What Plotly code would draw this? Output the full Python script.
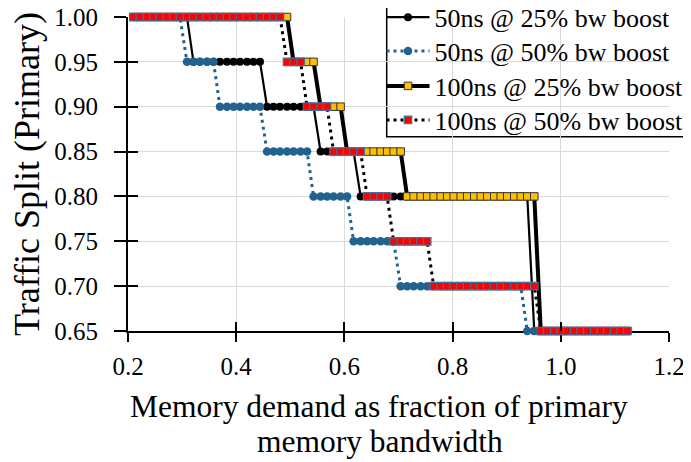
import plotly.graph_objects as go

# Memory demand (fraction of primary bandwidth) sample points
X = [0.210, 0.222, 0.235, 0.247, 0.259, 0.272, 0.284, 0.296, 0.309, 0.321,
     0.333, 0.346, 0.358, 0.370, 0.383, 0.395, 0.407, 0.420, 0.432, 0.444,
     0.457, 0.469, 0.481, 0.494, 0.506, 0.519, 0.531, 0.543, 0.556, 0.568,
     0.580, 0.593, 0.605, 0.617, 0.630, 0.642, 0.654, 0.667, 0.679, 0.691,
     0.704, 0.716, 0.728, 0.741, 0.753, 0.765, 0.778, 0.790, 0.802, 0.815,
     0.827, 0.840, 0.852, 0.864, 0.877, 0.889, 0.901, 0.914, 0.926, 0.938,
     0.951, 0.963, 0.975, 0.988, 1.000, 1.012, 1.025, 1.037, 1.049, 1.062,
     1.074, 1.086, 1.099, 1.111, 1.123]

SERIES_NAMES = ["50ns @ 25% bw boost", "50ns @ 50% bw boost",
                "100ns @ 25% bw boost", "100ns @ 50% bw boost"]

# Traffic split (primary) values
Y_50NS_25 = ([1.00] * 9 + [0.95] * 11 + [0.90] * 8 + [0.85] * 6 +
             [0.80] * 26 + [0.65] * 15)
Y_50NS_50 = ([1.00] * 8 + [0.95] * 5 + [0.90] * 7 + [0.85] * 7 +
             [0.80] * 6 + [0.75] * 7 + [0.70] * 19 + [0.65] * 16)
Y_100NS_25 = ([1.00] * 24 + [0.95] * 4 + [0.90] * 4 + [0.85] * 9 +
              [0.80] * 20 + [0.65] * 14)
Y_100NS_50 = ([1.00] * 23 + [0.95] * 3 + [0.90] * 4 + [0.85] * 5 +
              [0.80] * 4 + [0.75] * 6 + [0.70] * 16 + [0.65] * 14)

X_TICKS = [0.2, 0.4, 0.6, 0.8, 1.0, 1.2]
Y_TICKS = [0.65, 0.70, 0.75, 0.80, 0.85, 0.90, 0.95, 1.00]

FONT = "Liberation Serif"
BLUE = "#22628f"

# page offset (browser body margin) compensation
OFF = 8
W, H = 691 - OFF, 462 - OFF
L, R, T, B = 120, 22, 9, 131
PW, PH = W - L - R, H - T - B


def px_x(sx):
    return (sx - OFF - L) / PW


def px_y(sy):
    return (H - B - (sy - OFF)) / PH


fig = go.Figure()
fig.add_trace(go.Scatter(
    x=X, y=Y_50NS_25, name=SERIES_NAMES[0], mode="lines+markers",
    line=dict(color="black", width=2.2),
    marker=dict(symbol="circle", size=8, color="black"),
    cliponaxis=False, legend="legend", showlegend=True))
fig.add_trace(go.Scatter(
    x=X, y=Y_50NS_50, name=SERIES_NAMES[1], mode="lines+markers",
    line=dict(color=BLUE, width=3, dash="3px,4px"),
    marker=dict(symbol="circle", size=8.5, color=BLUE),
    cliponaxis=False, legend="legend2", showlegend=True))
fig.add_trace(go.Scatter(
    x=X, y=Y_100NS_25, name=SERIES_NAMES[2], mode="lines+markers",
    line=dict(color="black", width=4),
    marker=dict(symbol="square", size=7.5, color="#FFC000",
                line=dict(color="#333333", width=1)),
    cliponaxis=False, legend="legend3", showlegend=True))
fig.add_trace(go.Scatter(
    x=X, y=Y_100NS_50, name=SERIES_NAMES[3], mode="lines+markers",
    line=dict(color="black", width=3, dash="3px,4px"),
    marker=dict(symbol="square", size=7.5, color="#FF0000",
                line=dict(color="#41719C", width=1.2)),
    cliponaxis=False, legend="legend4", showlegend=True))
# helper trace so the overlay axes (cross ticks) are drawn
fig.add_trace(go.Scatter(x=[], y=[], xaxis="x2", yaxis="y2",
                         showlegend=False, hoverinfo="skip",
                         legend="legend4"))

axis_common = dict(showline=True, linecolor="black", linewidth=2,
                   tickcolor="black", tickwidth=2, zeroline=False,
                   layer="below traces", ticklabeloverflow="allow",
                   tickfont=dict(family=FONT, size=25, color="black"))

ROW_Y = [17, 51, 86, 120]
legend_common = dict(xanchor="left", yanchor="middle",
                     bgcolor="rgba(0,0,0,0)", borderwidth=0,
                     font=dict(family=FONT, size=26, color="black"),
                     itemwidth=43)
LEG_Y = [min(px_y(v), 0.999) for v in ROW_Y]

fig.update_layout(
    width=W, height=H, showlegend=True,
    margin=dict(l=L, r=R, t=T, b=B, autoexpand=False),
    paper_bgcolor="white", plot_bgcolor="white",
    font=dict(family=FONT, color="black"),
    xaxis=dict(range=[0.2, 1.2], tickvals=X_TICKS,
               ticktext=[f"{v:.1f}" for v in X_TICKS],
               showgrid=True, gridcolor="#d9d9d9", gridwidth=1,
               ticks="outside", ticklen=9, ticklabelstandoff=3,
               **axis_common),
    yaxis=dict(range=[0.65, 1.0], tickvals=Y_TICKS,
               ticktext=[f"{v:.2f}" for v in Y_TICKS],
               showgrid=True, gridcolor="#d9d9d9", gridwidth=1,
               ticks="outside", ticklen=12, ticklabelstandoff=11,
               **axis_common),
    xaxis2=dict(range=[0.2, 1.2], tickvals=X_TICKS, overlaying="x",
                anchor="y2", side="bottom", ticks="inside", ticklen=9,
                tickwidth=2, tickcolor="black", showticklabels=False,
                showgrid=False, showline=False, zeroline=False),
    yaxis2=dict(range=[0.65, 1.0], tickvals=Y_TICKS, overlaying="y",
                anchor="x2", side="left", ticks="inside", ticklen=10,
                tickwidth=2, tickcolor="black", showticklabels=False,
                showgrid=False, showline=False, zeroline=False),
    legend=dict(x=px_x(381.5), y=LEG_Y[0], **legend_common),
    legend2=dict(x=px_x(381.5), y=LEG_Y[1], **legend_common),
    legend3=dict(x=px_x(381.5), y=LEG_Y[2], **legend_common),
    legend4=dict(x=px_x(381.5), y=LEG_Y[3], **legend_common),
    shapes=[dict(type="rect", xref="paper", yref="paper",
                 x0=px_x(386.7), x1=px_x(720), y0=px_y(136.7), y1=px_y(-20),
                 line=dict(color="black", width=1.5), fillcolor="white",
                 layer="between")],
    annotations=[
        dict(text="Traffic Split (Primary)", textangle=-90,
             x=px_x(27), y=px_y(174), xref="paper", yref="paper",
             xanchor="center", yanchor="middle", showarrow=False,
             font=dict(family=FONT, size=36, color="black")),
        dict(text="Memory demand as fraction of primary",
             x=px_x(379), y=px_y(406), xref="paper", yref="paper",
             xanchor="center", yanchor="middle", showarrow=False,
             font=dict(family=FONT, size=31.5, color="black")),
        dict(text="memory bandwidth",
             x=px_x(380), y=px_y(441), xref="paper", yref="paper",
             xanchor="center", yanchor="middle", showarrow=False,
             font=dict(family=FONT, size=31.5, color="black")),
    ],
)

fig.write_html("out.html")
